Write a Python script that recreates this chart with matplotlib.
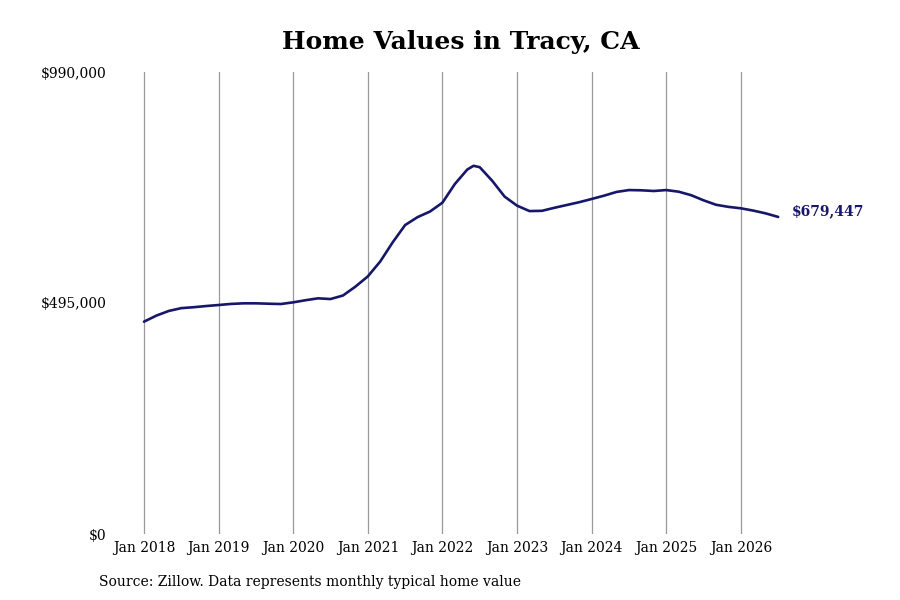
import numpy as np
from matplotlib import pyplot as plt

'''Chart data (read off the Zillow chart)'''
title = 'Home Values in Tracy, CA'
source = 'Source: Zillow. Data represents monthly typical home value'

# months counted from Jan 2018
months = [0, 2, 4, 6, 8, 10, 12, 14, 16, 18, 20, 22, 24, 26, 28, 30, 32, 34,
          36, 38, 40, 42, 44, 46, 48, 50, 52, 53, 54, 56, 58, 60, 62, 64, 66,
          68, 70, 72, 74, 76, 78, 80, 82, 84, 86, 88, 90, 92, 94, 96, 98, 100, 102]
values = [455000, 468000, 478000, 484000, 486000, 488500, 490700, 493000, 494300,
          494300, 493500, 492800, 496400, 501000, 505000, 503500, 511000, 530000,
          552000, 584000, 625000, 662000, 679000, 691000, 710000, 750000, 781000,
          789000, 786000, 757000, 723000, 703600, 692000, 692500, 699000, 705000,
          711000, 717900, 725000, 733000, 737000, 736500, 735000, 737000, 733500,
          726000, 715000, 705500, 701000, 697900, 693000, 687000, 679447]

tick_months = [0, 12, 24, 36, 48, 60, 72, 84, 96]
tick_labels = ['Jan 2018', 'Jan 2019', 'Jan 2020', 'Jan 2021', 'Jan 2022',
               'Jan 2023', 'Jan 2024', 'Jan 2025', 'Jan 2026']
y_ticks = [0, 495000, 990000]
y_labels = ['$0', '$495,000', '$990,000']
last_label = '$679,447'

plt.rcParams['font.family'] = ['DejaVu Serif']
navy = '#17176a'

fig = plt.figure(figsize=(9, 6), dpi=100)
ax = fig.add_axes([115/900, 66/600, 675/900, 462/600])

ax.plot(months, values, color=navy, lw=1.9, solid_capstyle='round',
        solid_joinstyle='round')

ax.set_xlim(-4.66, 103.9)
ax.set_ylim(0, 990000)
ax.set_xticks(tick_months)
ax.set_xticklabels(tick_labels, fontsize=10)
ax.set_yticks(y_ticks)
ax.set_yticklabels(y_labels, fontsize=10)
ax.tick_params(length=0, pad=6)
ax.tick_params(axis='x', pad=5)
for t in tick_months:
    ax.axvline(t, color='#999999', lw=0.9, zorder=0)
for s in ax.spines.values():
    s.set_visible(False)

ax.annotate(last_label, xy=(months[-1], values[-1]), xytext=(10, 4),
            textcoords='offset points', color=navy, fontsize=10,
            fontweight='bold', va='center', ha='left', annotation_clip=False)

fig.text(0.512, 1 - 42/600, title, ha='center', va='center', fontsize=18,
         fontweight='bold')
fig.text(99/900, 1 - 582/600, source, ha='left', va='center', fontsize=10)

plt.savefig('out.png', dpi=100)
